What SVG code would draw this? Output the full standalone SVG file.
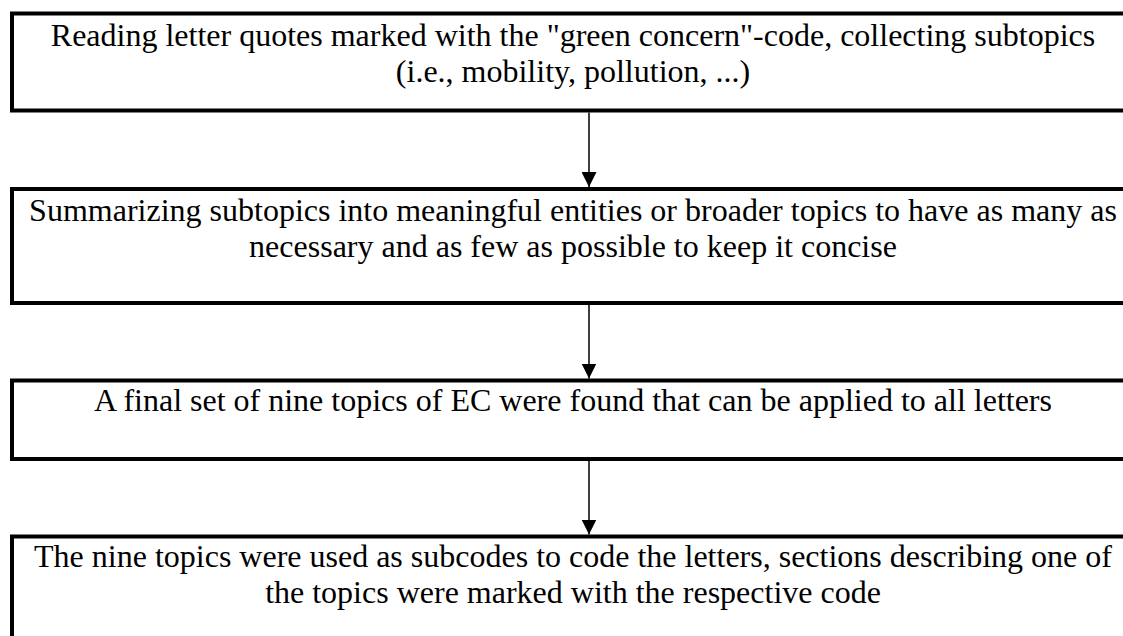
<svg xmlns="http://www.w3.org/2000/svg" width="1123" height="636" viewBox="0 0 1123 636">
<style>
.box{fill:#fff;stroke:#000;stroke-width:4}
.t{font-family:"Liberation Serif","Times New Roman",serif;font-size:32px;fill:#000;text-anchor:middle}
.c{stroke:#000;stroke-width:1.5;fill:none}
</style>
<defs>
<marker id="ah" markerUnits="userSpaceOnUse" markerWidth="15" markerHeight="15" refX="15" refY="7.5" orient="auto">
<path d="M0,0 L15,7.5 L0,15 Z" fill="#000"/>
</marker>
</defs>
<rect width="1123" height="636" fill="#fff"/>
<g id="n1">
<rect class="box" x="12" y="13.5" width="1122" height="97"/>
<text class="t" x="573" y="45.7">Reading letter quotes marked with the "green concern"-code, collecting subtopics</text>
<text class="t" x="573" y="81.7">(i.e., mobility, pollution, ...)</text>
</g>
<g id="n2">
<rect class="box" x="12" y="189" width="1122" height="114"/>
<text class="t" x="573" y="220.7">Summarizing subtopics into meaningful entities or broader topics to have as many as</text>
<text class="t" x="573" y="256.7">necessary and as few as possible to keep it concise</text>
</g>
<g id="n3">
<rect class="box" x="12" y="380.5" width="1122" height="78.5"/>
<text class="t" x="573" y="411">A final set of nine topics of EC were found that can be applied to all letters</text>
</g>
<g id="n4">
<rect class="box" x="12" y="536.5" width="1122" height="120"/>
<text class="t" x="573" y="567">The nine topics were used as subcodes to code the letters, sections describing one of</text>
<text class="t" x="573" y="603">the topics were marked with the respective code</text>
</g>
<g id="connectors">
<line class="c" x1="589" y1="112.5" x2="589" y2="187" marker-end="url(#ah)"/>
<line class="c" x1="589" y1="305" x2="589" y2="378.5" marker-end="url(#ah)"/>
<line class="c" x1="589" y1="461" x2="589" y2="534.5" marker-end="url(#ah)"/>
</g>
</svg>
